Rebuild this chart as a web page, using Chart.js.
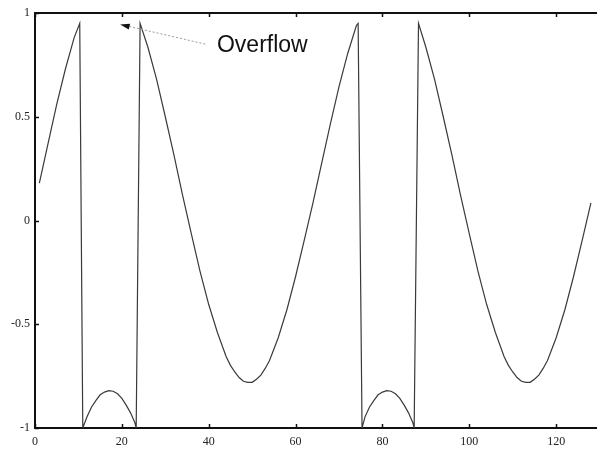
<!DOCTYPE html>
<html>
<head>
<meta charset="utf-8">
<script src="https://cdn.jsdelivr.net/npm/chart.js@4"></script>
<style>
  html, body { margin: 0; padding: 0; background: #fff; }
  #wrap { width: 597px; height: 449px; }
</style>
</head>
<body>
<div id="wrap"><canvas id="chart"></canvas></div>
<script>
// sample positions and values
const xs = [1, 3, 5, 7, 9, 10.3, 11, 12, 13, 14, 15, 16, 17, 18, 19, 20, 21, 22, 23, 23.3,
  24.2, 26, 28, 30, 32, 34, 36, 38, 40, 42, 44, 45, 46, 47, 48, 49, 50, 51, 52, 53, 54, 56, 58,
  60, 62, 64, 66, 68, 70, 72, 74, 74.4, 75.3, 76, 77, 78, 79, 80, 81, 82, 83, 84, 85, 86, 87, 87.3,
  88.3, 90, 92, 94, 96, 98, 100, 102, 104, 106, 108, 109, 110, 111, 112, 113, 114, 115, 116, 117,
  118, 120, 122, 124, 126, 128];
const ys = [0.18, 0.37, 0.56, 0.73, 0.88, 0.95, -1, -0.945, -0.9, -0.868, -0.84, -0.827, -0.82, -0.823, -0.835, -0.857, -0.89, -0.927, -0.975, -1,
  0.95, 0.835, 0.68, 0.5, 0.315, 0.12, -0.065, -0.245, -0.405, -0.54, -0.655, -0.698, -0.73, -0.757, -0.775, -0.78, -0.78, -0.765, -0.745, -0.713, -0.675, -0.565, -0.43,
  -0.27, -0.095, 0.085, 0.275, 0.465, 0.645, 0.805, 0.94, 0.95, -1, -0.945, -0.9, -0.868, -0.84, -0.827, -0.82, -0.823, -0.835, -0.857, -0.89, -0.927, -0.975, -1,
  0.95, 0.835, 0.68, 0.5, 0.315, 0.12, -0.065, -0.245, -0.405, -0.54, -0.655, -0.698, -0.73, -0.757, -0.775, -0.78, -0.78, -0.765, -0.745, -0.713,
  -0.675, -0.565, -0.43, -0.27, -0.095, 0.085];
const xTicks = [0, 20, 40, 60, 80, 100, 120];
const yTicks = [-1, -0.5, 0, 0.5, 1];
const noteText = "Overflow";

const points = xs.map((x, i) => ({ x: x, y: ys[i] }));

// ticks pointing inward, top frame line and the overflow note
const framePlugin = {
  id: "frame",
  afterDraw(chart) {
    const { ctx, chartArea: a, scales } = chart;
    const sx = scales.x, sy = scales.y;
    ctx.save();
    ctx.strokeStyle = "#111";
    ctx.lineWidth = 2;
    ctx.beginPath();
    ctx.moveTo(a.left, a.top);
    ctx.lineTo(a.right, a.top);
    ctx.stroke();

    ctx.lineWidth = 1.5;
    ctx.beginPath();
    xTicks.forEach(v => {
      const px = Math.round(sx.getPixelForValue(v)) + 0.5;
      ctx.moveTo(px, a.bottom); ctx.lineTo(px, a.bottom - 4);
      ctx.moveTo(px, a.top); ctx.lineTo(px, a.top + 4);
    });
    yTicks.forEach(v => {
      const py = Math.round(sy.getPixelForValue(v)) + 0.5;
      ctx.moveTo(a.left, py); ctx.lineTo(a.left + 4, py);
    });
    ctx.stroke();

    // dotted arrow
    const tipX = sx.getPixelForValue(19.6), tipY = sy.getPixelForValue(0.945);
    const tailX = sx.getPixelForValue(39.2), tailY = sy.getPixelForValue(0.85);
    ctx.strokeStyle = "#999";
    ctx.lineWidth = 1;
    ctx.setLineDash([2, 2]);
    ctx.beginPath();
    ctx.moveTo(tailX, tailY);
    ctx.lineTo(tipX + 9, tipY + 2);
    ctx.stroke();
    ctx.setLineDash([]);
    const ang = Math.atan2(tailY - tipY, tailX - tipX);
    ctx.fillStyle = "#111";
    ctx.beginPath();
    ctx.moveTo(tipX, tipY);
    ctx.lineTo(tipX + 10 * Math.cos(ang - 0.3), tipY + 10 * Math.sin(ang - 0.3));
    ctx.lineTo(tipX + 10 * Math.cos(ang + 0.3), tipY + 10 * Math.sin(ang + 0.3));
    ctx.closePath();
    ctx.fill();

    ctx.fillStyle = "#111";
    ctx.font = "23px 'Liberation Sans', Arial, sans-serif";
    ctx.textBaseline = "alphabetic";
    ctx.fillText(noteText, sx.getPixelForValue(41.9), sy.getPixelForValue(0.81));
    ctx.restore();
  }
};

new Chart(document.getElementById("chart"), {
  type: "scatter",
  data: {
    datasets: [{
      data: points,
      showLine: true,
      borderColor: "#3a3a3a",
      borderWidth: 1.2,
      pointRadius: 0,
      tension: 0
    }]
  },
  options: {
    responsive: true,
    maintainAspectRatio: false,
    animation: false,
    layout: { padding: { top: 13, right: 0, left: 0, bottom: 0 } },
    plugins: { legend: { display: false }, tooltip: { enabled: false } },
    scales: {
      x: {
        type: "linear",
        min: 0,
        max: 129.4,
        afterFit: s => { s.height = 21; },
        afterBuildTicks: s => { s.ticks = xTicks.map(v => ({ value: v })); },
        grid: { display: false, drawTicks: false },
        border: { display: true, color: "#111", width: 2 },
        ticks: {
          padding: 7,
          color: "#222",
          maxRotation: 0,
          font: { family: "'Liberation Serif', serif", size: 12 }
        }
      },
      y: {
        min: -1,
        max: 1,
        afterFit: s => { s.width = 35; },
        afterBuildTicks: s => { s.ticks = yTicks.map(v => ({ value: v })); },
        grid: { display: false, drawTicks: false },
        border: { display: true, color: "#111", width: 2 },
        ticks: {
          padding: 5,
          color: "#222",
          callback: v => String(v),
          font: { family: "'Liberation Serif', serif", size: 12 }
        }
      }
    }
  },
  plugins: [framePlugin]
});
</script>
</body>
</html>
